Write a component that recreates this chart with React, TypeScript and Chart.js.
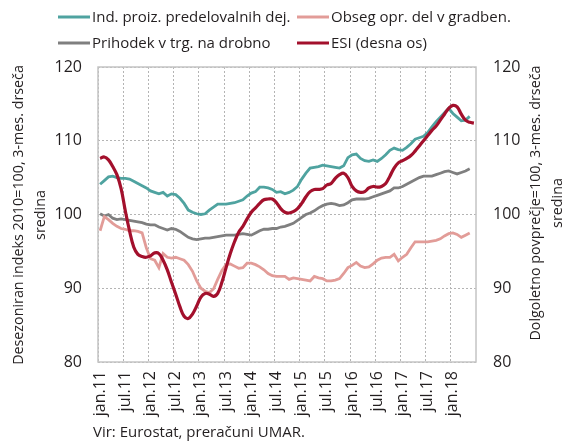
import React, { useEffect, useRef } from 'react';
import { Chart, registerables } from 'chart.js';
Chart.register(...registerables);

const FONT = "'Open Sans', 'Noto Sans', sans-serif";
const TEXT = '#231f20';
const GRID = '#b4b4b4';

const monthNames = ['jan', 'feb', 'mar', 'apr', 'maj', 'jun', 'jul', 'avg', 'sep', 'okt', 'nov', 'dec'];
const startYear = 11;
const monthCount = 90;
const categories = Array.from({ length: monthCount }, (_, i) => `${monthNames[i % 12]}.${startYear + Math.floor(i / 12)}`);
const tickLabels = ['jan.11', 'jul.11', 'jan.12', 'jul.12', 'jan.13', 'jul.13', 'jan.14', 'jul.14', 'jan.15', 'jul.15', 'jan.16', 'jul.16', 'jan.17', 'jul.17', 'jan.18'];

const indProiz = [
  104.1, 104.6, 105.1, 105.2, 105.0, 104.9, 104.9, 104.8, 104.5, 104.2, 103.9, 103.6,
  103.2, 103.0, 102.8, 103.0, 102.5, 102.8, 102.7, 102.2, 101.5, 100.6, 100.3, 100.1,
  100.0, 100.1, 100.6, 101.0, 101.4, 101.4, 101.4, 101.5, 101.6, 101.8, 102.0, 102.5,
  102.9, 103.1, 103.7, 103.7, 103.6, 103.4, 103.0, 103.1, 102.8, 103.0, 103.3, 103.8,
  104.8, 105.6, 106.3, 106.4, 106.5, 106.7, 106.6, 106.5, 106.4, 106.3, 106.6, 107.7,
  108.1, 108.2, 107.6, 107.3, 107.2, 107.4, 107.2, 107.6, 108.1, 108.7, 109.0, 108.8,
  108.7, 109.1, 109.6, 110.2, 110.4, 110.6, 111.1, 111.9, 112.6, 113.2, 113.8, 114.4,
  113.7, 113.2, 112.7, 112.8, 113.3,
];

const obsegGradb = [
  97.8, 99.7, 99.3, 98.8, 98.4, 98.1, 98.0, 97.8, 97.8, 97.7, 97.5, 95.5,
  94.0, 93.8, 92.8, 94.7, 94.2, 94.1, 94.2, 94.0, 93.8, 93.2, 92.3, 91.0,
  90.0, 89.6, 89.4, 89.9, 91.2, 92.4, 93.2, 93.3, 93.0, 92.7, 92.8, 93.4,
  93.4, 93.2, 92.9, 92.5, 92.0, 91.7, 91.6, 91.6, 91.6, 91.2, 91.4, 91.3,
  91.2, 91.1, 91.0, 91.6, 91.4, 91.3, 91.0, 91.0, 91.1, 91.3, 92.0, 92.8,
  93.1, 93.5, 93.0, 92.8, 92.9, 93.3, 93.8, 94.1, 94.2, 94.2, 94.6, 93.7,
  94.2, 94.6, 95.5, 96.3, 96.3, 96.3, 96.3, 96.4, 96.5, 96.7, 97.1, 97.4,
  97.5, 97.3, 96.9, 97.2, 97.5,
];

const prihodek = [
  100.1, 99.8, 100.0, 99.5, 99.3, 99.4, 99.3, 99.2, 99.1, 99.0, 98.9, 98.7,
  98.6, 98.6, 98.3, 98.1, 97.9, 98.1, 98.0, 97.7, 97.3, 96.9, 96.7, 96.6,
  96.7, 96.8, 96.8, 96.9, 97.0, 97.1, 97.2, 97.2, 97.2, 97.3, 97.4, 97.3,
  97.2, 97.5, 97.8, 98.0, 98.0, 98.1, 98.1, 98.3, 98.4, 98.6, 98.8, 99.2,
  99.6, 100.0, 100.2, 100.5, 100.9, 101.2, 101.4, 101.5, 101.4, 101.2, 101.3, 101.6,
  102.0, 102.1, 102.1, 102.1, 102.2, 102.4, 102.6, 102.8, 103.0, 103.2, 103.6, 103.6,
  103.8, 104.1, 104.4, 104.7, 105.0, 105.2, 105.2, 105.2, 105.4, 105.6, 105.8, 105.9,
  105.7, 105.5, 105.7, 105.9, 106.2,
];

const esi = [
  107.6, 107.8, 107.4, 106.5, 105.4, 103.5, 100.5, 97.8, 95.6, 94.6, 94.3, 94.2,
  94.4, 94.8, 94.7, 93.8, 92.5, 90.8, 89.2, 87.5, 86.2, 85.9, 86.5, 87.6,
  88.8, 89.3, 89.2, 88.9, 89.3, 90.8, 92.8, 94.7, 96.3, 97.6, 98.4, 99.4,
  100.3, 100.9, 101.5, 102.0, 102.1, 102.1, 101.6, 100.8, 100.3, 100.2, 100.4, 100.8,
  101.5, 102.4, 103.1, 103.4, 103.4, 103.5, 104.0, 104.2, 104.9, 105.4, 105.6, 105.0,
  103.8, 103.2, 103.0, 103.1, 103.6, 103.8, 103.7, 103.8, 104.2, 105.2, 106.3, 107.0,
  107.3, 107.6, 108.0, 108.6, 109.3, 110.0, 110.7, 111.4, 112.0, 112.8, 113.6, 114.4,
  114.8, 114.6, 113.6, 112.8, 112.5, 112.4,
];

const seriesNames = ['Ind. proiz. predelovalnih dej.', 'Obseg opr. del v gradben.', 'Prihodek v trg. na drobno', 'ESI (desna os)'];
const seriesColors = ['#4fa3a0', '#e29c98', '#7f7f7f', '#a3102c'];
const leftTitle = ['Desezoniran indeks 2010=100, 3-mes. drseča', 'sredina'];
const rightTitle = ['Dolgoletno povprečje=100, 3-mes. drseča', 'sredina'];
const sourceText = 'Vir: Eurostat, preračuni UMAR.';

const decorPlugin = {
  id: 'decor',
  beforeDatasetsDraw(chart: any) {
    const { ctx, chartArea: a } = chart;
    ctx.save();
    ctx.strokeStyle = '#c4c4c4';
    ctx.lineWidth = 1.5;
    ctx.strokeRect(a.left, a.top, a.right - a.left, a.bottom - a.top);
    ctx.restore();
  },
  afterDraw(chart: any) {
    const { ctx } = chart;
    ctx.save();
    const colX = [58, 297];
    const rowY = [17, 43];
    const pos = [[0, 0], [1, 0], [0, 1], [1, 1]];
    ctx.font = `15px ${FONT}`;
    ctx.textBaseline = 'middle';
    ctx.textAlign = 'left';
    seriesNames.forEach((name, i) => {
      const x = colX[pos[i][0]];
      const y = rowY[pos[i][1]];
      ctx.strokeStyle = seriesColors[i];
      ctx.lineWidth = 3;
      ctx.beginPath();
      ctx.moveTo(x, y);
      ctx.lineTo(x + 32, y);
      ctx.stroke();
      ctx.fillStyle = TEXT;
      ctx.fillText(name, x + 34, y + 1);
    });
    const drawRot = (lines: string[], xs: number[], cy: number) => {
      lines.forEach((t, i) => {
        ctx.save();
        ctx.translate(xs[i], cy);
        ctx.rotate(-Math.PI / 2);
        ctx.textAlign = 'center';
        ctx.textBaseline = 'middle';
        ctx.fillStyle = TEXT;
        ctx.font = `14.3px ${FONT}`;
        ctx.fillText(t, 0, 0);
        ctx.restore();
      });
    };
    drawRot(leftTitle, [19, 41], 215);
    drawRot(rightTitle, [536, 558], 203);
    ctx.font = `15px ${FONT}`;
    ctx.fillStyle = TEXT;
    ctx.textAlign = 'left';
    ctx.textBaseline = 'middle';
    ctx.fillText(sourceText, 93, 433);
    ctx.restore();
  },
};

export default function App() {
  const ref = useRef<HTMLCanvasElement>(null);
  useEffect(() => {
    if (!ref.current) return;
    const data = [indProiz, obsegGradb, prihodek, esi];
    const chart = new Chart(ref.current, {
      type: 'line',
      data: {
        labels: categories,
        datasets: data.map((d, i) => ({
          label: seriesNames[i],
          data: d,
          borderColor: seriesColors[i],
          backgroundColor: seriesColors[i],
          borderWidth: i === 3 ? 3.2 : 2.8,
          pointRadius: 0,
          tension: i === 3 ? 0.4 : 0,
          yAxisID: i === 3 ? 'y1' : 'y',
          order: i === 3 ? 0 : 1,
        })),
      },
      options: {
        animation: false,
        responsive: false,
        devicePixelRatio: 1,
        layout: { padding: { top: 67, left: 0, right: 0, bottom: 0 } },
        plugins: { legend: { display: false }, tooltip: { enabled: false } },
        scales: {
          x: {
            type: 'category',
            offset: true,
            grid: {
              offset: true,
              drawTicks: false,
              color: (c: any) => (c.index % 6 === 0 ? GRID : 'rgba(0,0,0,0)'),
              lineWidth: 1,
            },
            border: { display: false, dash: [2, 2] },
            ticks: {
              autoSkip: false,
              maxRotation: 90,
              minRotation: 90,
              padding: 9,
              color: TEXT,
              font: { family: FONT, size: 16 },
              callback: (_v: any, idx: number) => (tickLabels.includes(categories[idx]) ? categories[idx] : ''),
            },
            afterFit: (s: any) => { s.height = 82; },
          },
          y: {
            position: 'left',
            min: 80,
            max: 120,
            grid: { drawTicks: false, color: GRID, lineWidth: 1 },
            border: { display: false, dash: [2, 2] },
            ticks: { stepSize: 10, padding: 16, color: TEXT, font: { family: FONT, size: 16 } },
            afterFit: (s: any) => { s.width = 98; },
          },
          y1: {
            position: 'right',
            min: 80,
            max: 120,
            grid: { display: false, drawTicks: false },
            border: { display: false },
            ticks: { stepSize: 10, padding: 17, color: TEXT, font: { family: FONT, size: 16 } },
            afterFit: (s: any) => { s.width = 89; },
          },
        },
      },
      plugins: [decorPlugin],
    } as any);
    return () => chart.destroy();
  }, []);
  return (
    <div style={{ position: 'fixed', left: 0, top: 0, width: 565, height: 444, background: '#fff' }}>
      <canvas ref={ref} width={565} height={444} style={{ width: 565, height: 444 }} />
    </div>
  );
}
